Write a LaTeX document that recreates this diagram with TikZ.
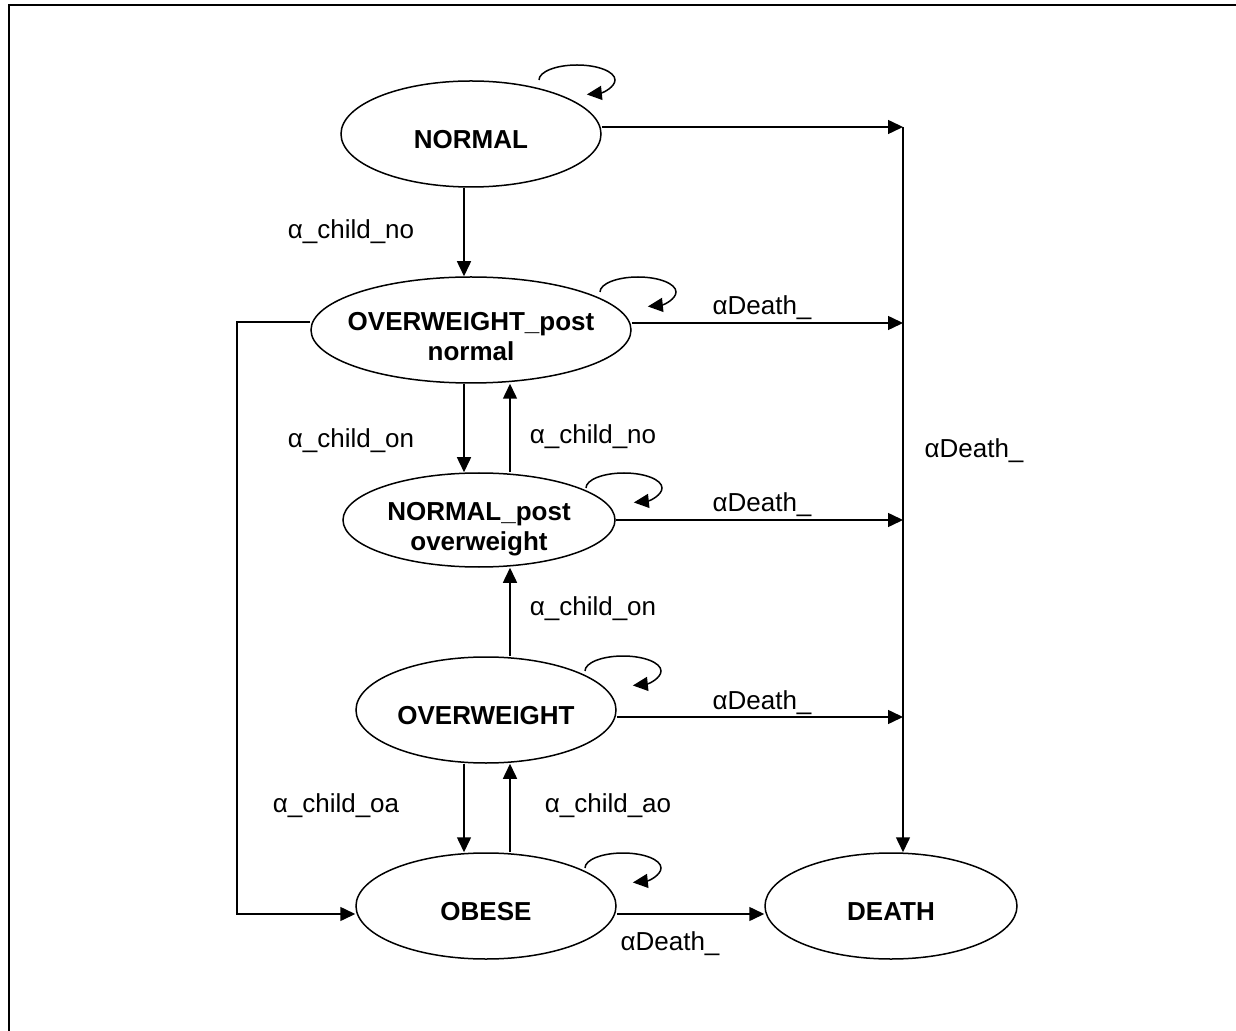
\documentclass[tikz,border=0pt]{standalone}
\usepackage{fontspec}
\setmainfont{Liberation Sans}
\usetikzlibrary{shapes.geometric,arrows.meta,calc}

\tikzset{
  state/.style={draw, ellipse, inner sep=0pt, line width=0.75pt, align=center,
    font=\bfseries\fontsize{13}{15}\selectfont, text height=14.3pt, text depth=0pt},
  twoline/.style={text height=30.3pt},
  lbl/.style={anchor=base, inner sep=0pt, font=\fontsize{13}{15}\selectfont},
  arr/.style={line width=0.75pt, -{Triangle[length=7.5pt,width=7pt]}},
}

\begin{document}
\begin{tikzpicture}[x=0.5pt,y=-0.5pt]

\useasboundingbox (0,0) rectangle (1236,1031);
\draw [line width=1pt] (9,5) rectangle (1260,1060);

\node [state, minimum width=130pt, minimum height=53pt] (norm) at (471,134) {NORMAL};
\node [state, twoline, inner xsep=-5.5pt, minimum width=160pt, minimum height=53pt] (owp) at (471,330) {OVERWEIGHT\_post\\normal};
\node [state, twoline, minimum width=136pt, minimum height=47pt] (nop) at (479,520) {NORMAL\_post\\overweight};
\node [state, minimum width=130pt, minimum height=53pt] (ow) at (486,710) {OVERWEIGHT};
\node [state, minimum width=130pt, minimum height=53pt] (ob) at (486,906) {OBESE};
\node [state, minimum width=126pt, minimum height=53pt] (death) at (891,906) {DEATH};

\coordinate (d0) at (903,127);
\coordinate (d1) at (903,323);
\coordinate (d2) at (903,520);
\coordinate (d3) at (903,717);
\coordinate (bend) at (237,322);
\coordinate (colL) at (464,0);
\coordinate (colR) at (510,0);

% to death
\draw [arr] (norm.east |- d0) -- (d0);
\draw [arr] (owp.east |- d1) -- (d1);
\draw [arr] (nop.east |- d2) -- (d2);
\draw [arr] (ow.east |- d3) -- (d3);
\draw [arr] (d0) -- (d0 |- death.north);
\draw [arr] ([yshift=-4pt]ob.east) -- ([yshift=-4pt]death.west);

% between states
\draw [arr] (colL |- norm.south) -- (colL |- owp.north);
\draw [arr] (colL |- owp.south) -- (colL |- nop.north);
\draw [arr] (colR |- nop.north) -- (colR |- owp.south);
\draw [arr] (colR |- ow.north) -- (colR |- nop.south);
\draw [arr] (colL |- ow.south) -- (colL |- ob.north);
\draw [arr] (colR |- ob.north) -- (colR |- ow.south);
\draw [arr] ([yshift=4pt]owp.west) -- (bend) |- ([yshift=-4pt]ob.west);

% self loops
\foreach \n/\dx/\dy in {norm/106/-54, owp/167/-38, nop/145/-32, ow/137/-39, ob/137/-38}
  \draw [arr] ($(\n)+({\dx-38},\dy)$) arc [start angle=180, end angle=435, x radius=38, y radius=15];

\node [lbl] (lno1) at (351,239) {α\_child\_no};
\node [lbl] (lon1) at (351,448) {α\_child\_on};
\node [lbl] (lno2) at (593,444) {α\_child\_no};
\node [lbl] (lon2) at (593,615) {α\_child\_on};
\node [lbl] (loa) at (336,812) {α\_child\_oa};
\node [lbl] (lao) at (608,812) {α\_child\_ao};
\node [lbl] (ld0) at (974,458) {αDeath\_};
\node [lbl] (ld1) at (762,315) {αDeath\_};
\node [lbl] (ld2) at (762,512) {αDeath\_};
\node [lbl] (ld3) at (762,709) {αDeath\_};
\node [lbl] (ld4) at (670,950) {αDeath\_};

\end{tikzpicture}
\end{document}
